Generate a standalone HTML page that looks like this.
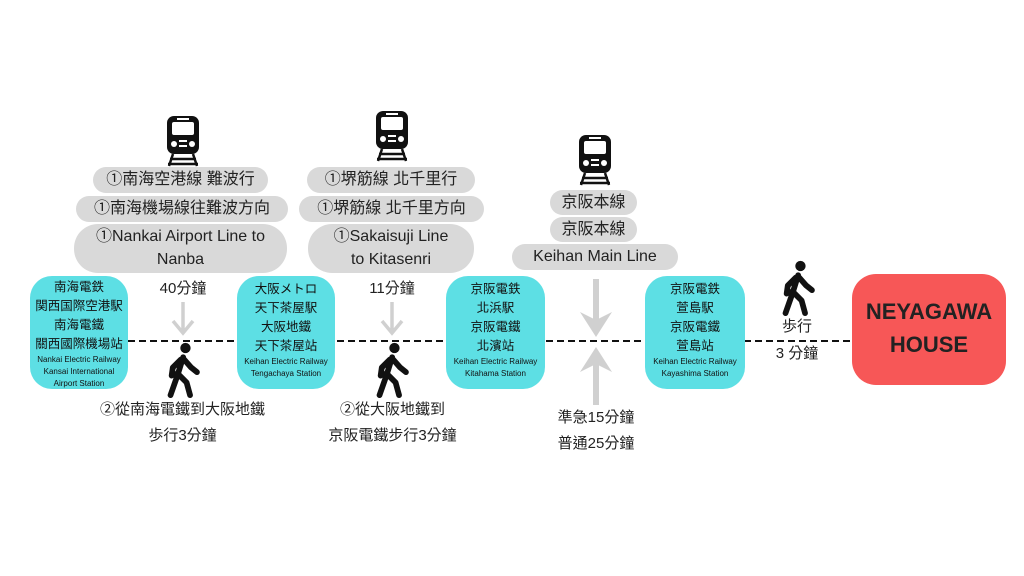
<!DOCTYPE html>
<html><head><meta charset="utf-8"><style>
body{margin:0;width:1024px;height:576px;background:#fff;position:relative;overflow:hidden;font-family:"Liberation Sans","Noto Sans CJK TC",sans-serif;color:#222}
.a{position:absolute;text-align:center;white-space:nowrap}
.pill{position:absolute;background:#d9d9d9;border-radius:14px;text-align:center;font-size:16px;line-height:26px;color:#222}
.st{position:absolute;background:#5ddfe4;border-radius:22px;text-align:center;font-size:12.5px;line-height:19px;color:#111;padding-top:2px;box-sizing:border-box}
.st small{display:block;font-size:8px;line-height:12px}
.t{font-size:15px;line-height:26px}
</style></head><body>
<svg width="1024" height="576" style="position:absolute;left:0;top:0">
<defs>
<g id="train">
<rect x="-16" y="0" width="32" height="38" rx="7" fill="#111"/>
<rect x="-11" y="6" width="22" height="13" rx="2" fill="#fff"/>
<rect x="-6" y="2" width="12" height="2" fill="#fff"/>
<circle cx="-9" cy="28" r="3" fill="#fff"/><circle cx="9" cy="28" r="3" fill="#fff"/>
<rect x="-4" y="24" width="8" height="2" fill="#fff"/><rect x="-4" y="29" width="8" height="2" fill="#fff"/>
<path d="M-10 38 L-14 50 M10 38 L14 50 M-13 43 H13 M-15 48 H15" stroke="#111" stroke-width="2.5" fill="none"/>
</g>
<g id="walk" transform="scale(1.15)">
<circle cx="3" cy="-20" r="4.5" fill="#111"/>
<path d="M1 -12 L-4 4 L-10 21 M-4 2 L4 10 L7 21 M1 -11 L8 -3 L13 1 M-1 -10 L-8 -3 L-9 4" stroke="#111" stroke-width="5" stroke-linecap="round" stroke-linejoin="round" fill="none"/>
</g>
</defs>
<line x1="128" y1="341" x2="852" y2="341" stroke="#111" stroke-width="2" stroke-dasharray="7,4"/>
<use href="#train" x="183" y="116"/>
<use href="#train" x="392" y="111"/>
<use href="#train" x="595" y="135"/>
<path d="M183 302 V332 M173 321 L183 333 L193 321" stroke="#d0d0d0" stroke-width="3.5" fill="none"/>
<path d="M392 302 V332 M382 321 L392 333 L402 321" stroke="#d0d0d0" stroke-width="3.5" fill="none"/>
<path d="M596 279 V325" stroke="#d0d0d0" stroke-width="6"/>
<path d="M580 312 L596 337 L612 312 L596 320 Z" fill="#d0d0d0"/>
<path d="M596 405 V360" stroke="#d0d0d0" stroke-width="6"/>
<path d="M580 372 L596 347 L612 372 L596 364 Z" fill="#d0d0d0"/>
<use href="#walk" x="182" y="371"/>
<use href="#walk" x="391" y="371"/>
<use href="#walk" x="797" y="289"/>
</svg>
<div class="pill" style="left:93px;top:167px;width:175px">①南海空港線 難波行</div>
<div class="pill" style="left:76px;top:196px;width:212px">①南海機場線往難波方向</div>
<div class="pill" style="left:74px;top:224px;width:213px;height:48px;border-radius:24px;line-height:23px;padding-top:1px">①Nankai Airport Line to<br>Nanba</div>
<div class="pill" style="left:307px;top:167px;width:168px">①堺筋線 北千里行</div>
<div class="pill" style="left:299px;top:196px;width:185px">①堺筋線 北千里方向</div>
<div class="pill" style="left:308px;top:224px;width:166px;height:48px;border-radius:24px;line-height:23px;padding-top:1px">①Sakaisuji Line<br>to Kitasenri</div>
<div class="pill" style="left:550px;top:190px;width:87px;height:25px;line-height:25px">京阪本線</div>
<div class="pill" style="left:550px;top:217px;width:87px;height:25px;line-height:25px">京阪本線</div>
<div class="pill" style="left:512px;top:244px;width:166px;height:26px">Keihan Main Line</div>
<div class="st" style="left:30px;top:276px;width:98px;height:113px">南海電鉄<br>関西国際空港駅<br>南海電鐵<br>關西國際機場站<small>Nankai Electric Railway<br>Kansai International<br>Airport Station</small></div>
<div class="st" style="left:237px;top:276px;width:98px;height:113px;padding-top:4px">大阪メトロ<br>天下茶屋駅<br>大阪地鐵<br>天下茶屋站<small>Keihan Electric Railway<br>Tengachaya Station</small></div>
<div class="st" style="left:446px;top:276px;width:99px;height:113px;padding-top:4px">京阪電鉄<br>北浜駅<br>京阪電鐵<br>北濱站<small>Keihan Electric Railway<br>Kitahama Station</small></div>
<div class="st" style="left:645px;top:276px;width:100px;height:113px;padding-top:4px">京阪電鉄<br>萱島駅<br>京阪電鐵<br>萱島站<small>Keihan Electric Railway<br>Kayashima Station</small></div>
<div class="a" style="left:852px;top:274px;width:154px;height:111px;background:#f75757;border-radius:24px;font-weight:bold;font-size:22px;line-height:33px;padding-top:21px;box-sizing:border-box;color:#222">NEYAGAWA<br>HOUSE</div>
<div class="a t" style="left:133px;top:276px;width:100px">40分鐘</div>
<div class="a t" style="left:342px;top:276px;width:100px">11分鐘</div>
<div class="a t" style="left:70px;top:397px;width:225px">②從南海電鐵到大阪地鐵<br>歩行3分鐘</div>
<div class="a t" style="left:290px;top:397px;width:205px">②從大阪地鐵到<br>京阪電鐵步行3分鐘</div>
<div class="a t" style="left:536px;top:405px;width:120px">準急15分鐘<br>普通25分鐘</div>
<div class="a t" style="left:757px;top:314px;width:80px">歩行</div>
<div class="a t" style="left:757px;top:341px;width:80px">3 分鐘</div>
</body></html>
